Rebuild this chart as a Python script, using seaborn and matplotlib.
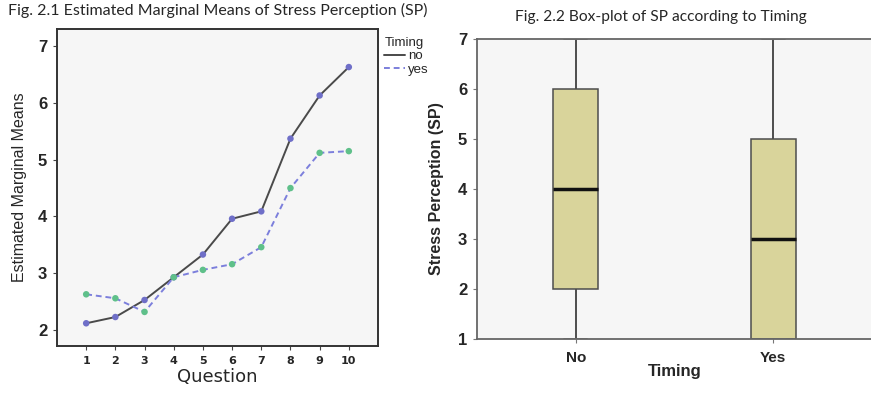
import numpy as np
import pandas as pd
import matplotlib
matplotlib.use("Agg")
import matplotlib.pyplot as plt
import seaborn as sns
from matplotlib.lines import Line2D

# ---- data ----
questions = [1, 2, 3, 4, 5, 6, 7, 8, 9, 10]
means_no = [2.12, 2.23, 2.53, 2.93, 3.33, 3.96, 4.09, 5.37, 6.13, 6.63]
means_yes = [2.63, 2.56, 2.32, 2.93, 3.06, 3.16, 3.46, 4.50, 5.12, 5.15]
timing_levels = ["no", "yes"]

box_categories = ["No", "Yes"]
sp_no = [1, 2, 4, 6, 7]    # min, Q1, median, Q3, max
sp_yes = [1, 1, 3, 5, 7]

sns.set_theme(style="white")
plt.rcParams['font.family'] = ['Liberation Sans', 'DejaVu Sans']

fig = plt.figure(figsize=(8.71, 3.97), dpi=100)
fig.patch.set_facecolor("white")

# ---------------- left: line plot ----------------
ax1 = fig.add_axes([57/871, 1-346/397, 321/871, 317/397])
df = pd.DataFrame({
    "Question": questions * 2,
    "Mean": means_no + means_yes,
    "Timing": ["no"] * len(questions) + ["yes"] * len(questions),
})
line_pal = {"no": "#4a4a4a", "yes": "#7c7fdc"}
mark_pal = {"no": "#6f6fc8", "yes": "#5fc08a"}
sns.lineplot(data=df, x="Question", y="Mean", hue="Timing", style="Timing",
             palette=line_pal, dashes={"no": "", "yes": (3, 2)},
             linewidth=1.4, ax=ax1, legend=False)
sns.scatterplot(data=df, x="Question", y="Mean", hue="Timing", palette=mark_pal,
                s=22, edgecolor="none", ax=ax1, legend=False, zorder=5)
ax1.set_facecolor("#f6f6f6")
ax1.set_xlim(0, 11)
ax1.set_ylim(1.72, 7.3)
ax1.set_xticks(questions)
ax1.set_xticklabels([str(q) for q in questions], fontsize=8, fontweight="bold",
                    family="DejaVu Sans")
ax1.set_yticks([2, 3, 4, 5, 6, 7])
ax1.set_yticklabels(["2", "3", "4", "5", "6", "7"], fontsize=12, fontweight="bold")
ax1.tick_params(axis="both", length=3, width=0.8, color="#444444", direction="out",
                bottom=True, left=True, pad=4)
for sp in ax1.spines.values():
    sp.set_color("#333333")
    sp.set_linewidth(1.4)
ax1.set_xlabel("Question", fontsize=13, family="DejaVu Sans", labelpad=2)
ax1.set_ylabel("Estimated Marginal Means", fontsize=11.5, labelpad=8)

handles = [Line2D([], [], color=line_pal["no"], lw=1.4),
           Line2D([], [], color=line_pal["yes"], lw=1.4, dashes=(3, 2))]
leg = ax1.legend(handles, timing_levels, title="Timing", loc="upper left",
                 bbox_to_anchor=(0.995, 1.0), frameon=False, fontsize=9.5,
                 title_fontsize=9.5, handlelength=1.6, handletextpad=0.2,
                 borderaxespad=0.2, labelspacing=0.1)
leg._legend_box.align = "left"

fig.text(218/871, 1-10/397, "Fig. 2.1 Estimated Marginal Means of Stress Perception (SP)",
         ha="center", va="center", fontsize=11.5, family="Lato")

# ---------------- right: box plot ----------------
ax2 = fig.add_axes([477/871, 1-339/397, 395/871, 300/397])
bdf = pd.DataFrame({
    "Timing": ["No"] * len(sp_no) + ["Yes"] * len(sp_yes),
    "SP": sp_no + sp_yes,
})
sns.boxplot(data=bdf, x="Timing", y="SP", order=box_categories, color="#d9d49b",
            width=0.23, whis=1.5, ax=ax2, saturation=1,
            linecolor="#4d4d4d", linewidth=1.1,
            medianprops={"color": "#111111", "linewidth": 2.5},
            capprops={"color": "#777777", "linewidth": 1.2},
            whiskerprops={"color": "#4d4d4d", "linewidth": 1.4},
            showfliers=False)
ax2.set_facecolor("#f6f6f6")
ax2.set_xlim(-0.5, 1.5)
ax2.set_ylim(1, 7)
ax2.set_yticks([1, 2, 3, 4, 5, 6, 7])
ax2.set_yticklabels([str(v) for v in range(1, 8)], fontsize=12, fontweight="bold")
ax2.set_xticks([0, 1])
ax2.set_xticklabels(box_categories, fontsize=11, fontweight="bold")
ax2.tick_params(axis="both", length=3, width=0.8, color="#777777", direction="out",
                bottom=True, left=True, pad=4)
ax2.tick_params(axis="x", pad=6)
for name, sp in ax2.spines.items():
    sp.set_color("#666666")
    sp.set_linewidth(1.3)
ax2.spines["right"].set_visible(False)
ax2.set_xlabel("Timing", fontsize=12, fontweight="bold", labelpad=-1)
ax2.set_ylabel("Stress Perception (SP)", fontsize=11.5, fontweight="bold", labelpad=10)

fig.text(661/871, 1-17/397, "Fig. 2.2 Box-plot of SP according to Timing",
         ha="center", va="center", fontsize=11.2, family="Lato")

fig.savefig("out.png", dpi=100, facecolor="white")
